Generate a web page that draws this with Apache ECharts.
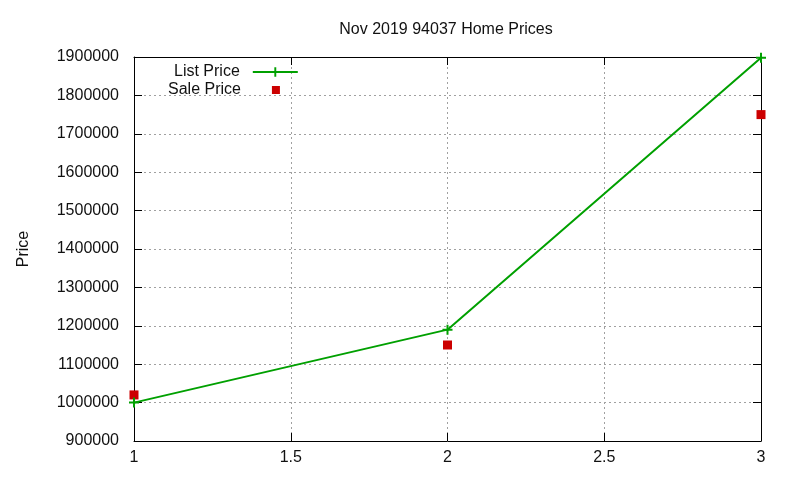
<!DOCTYPE html>
<html>
<head>
<meta charset="utf-8">
<script src="https://cdn.jsdelivr.net/npm/echarts@6/dist/echarts.min.js"></script>
<style>
  html, body { margin: 0; padding: 0; background: #fff; }
  #chart { width: 800px; height: 480px; }
</style>
</head>
<body>
<div id="chart"></div>
<script>
// data
const xValues = [1, 2, 3]
const listPrice = [1000000, 1190000, 1898000]
const salePrice = [1020000, 1150000, 1750000]

const fontFamily = '"Liberation Sans", Arial, sans-serif'
const textColor = '#111'
const plusSymbol = 'path://M4,0H6V4H10V6H6V10H4V6H0V4H4Z'

const chart = echarts.init(document.getElementById('chart'))

const gridLine = {
  show: true,
  lineStyle: { color: '#a0a0a0', type: [2, 3], width: 1 }
}
const tick = { show: true, inside: true, length: 8, lineStyle: { color: '#000' } }
const border = { show: true, onZero: false, lineStyle: { color: '#000', width: 1 } }

const option = {
  animation: false,
  backgroundColor: '#fff',
  title: {
    text: 'Nov 2019 94037 Home Prices',
    left: 441,
    top: 17,
    textAlign: 'center',
    textStyle: { fontFamily, fontSize: 16, fontWeight: 'normal', color: textColor }
  },
  // two legends so that the line sample and the square can have different widths
  legend: [
    {
      left: 169,
      top: 59,
      align: 'right',
      itemWidth: 45,
      itemHeight: 12,
      textStyle: { fontFamily, fontSize: 16, color: textColor, padding: [0, 8, 0, 0] },
      data: ['List Price']
    },
    {
      left: 163,
      top: 77,
      align: 'right',
      itemWidth: 8,
      itemHeight: 8,
      textStyle: { fontFamily, fontSize: 16, color: textColor, padding: [0, 26, 0, 0] },
      data: ['Sale Price']
    }
  ],
  grid: { left: 134, right: 39, top: 57, bottom: 39, containLabel: false },
  xAxis: [
    {
      type: 'value',
      min: 1,
      max: 3,
      interval: 0.5,
      axisLine: border,
      axisTick: tick,
      axisLabel: { fontFamily, fontSize: 16, color: textColor, margin: 9 },
      splitLine: gridLine
    },
    {
      type: 'value',
      position: 'top',
      min: 1,
      max: 3,
      interval: 0.5,
      axisLine: border,
      axisTick: tick,
      axisLabel: { show: false },
      splitLine: { show: false }
    }
  ],
  yAxis: [
    {
      type: 'value',
      min: 900000,
      max: 1900000,
      interval: 100000,
      name: 'Price',
      nameLocation: 'middle',
      nameGap: 102,
      nameTextStyle: { fontFamily, fontSize: 16, color: textColor },
      axisLine: border,
      axisTick: tick,
      axisLabel: { fontFamily, fontSize: 16, color: textColor, margin: 15, formatter: v => String(v) },
      splitLine: gridLine
    },
    {
      type: 'value',
      position: 'right',
      min: 900000,
      max: 1900000,
      interval: 100000,
      axisLine: border,
      axisTick: tick,
      axisLabel: { show: false },
      splitLine: { show: false }
    }
  ],
  series: [
    {
      name: 'List Price',
      type: 'line',
      data: xValues.map((x, i) => [x, listPrice[i]]),
      symbol: plusSymbol,
      symbolSize: 10,
      showAllSymbol: true,
      lineStyle: { color: '#00a000', width: 2 },
      itemStyle: { color: '#00a000' },
      z: 3
    },
    {
      name: 'Sale Price',
      type: 'scatter',
      data: xValues.map((x, i) => [x, salePrice[i]]),
      symbol: 'rect',
      symbolSize: 9,
      itemStyle: { color: '#cc0000', opacity: 1 },
      z: 2
    }
  ]
}

chart.setOption(option)
</script>
</body>
</html>
